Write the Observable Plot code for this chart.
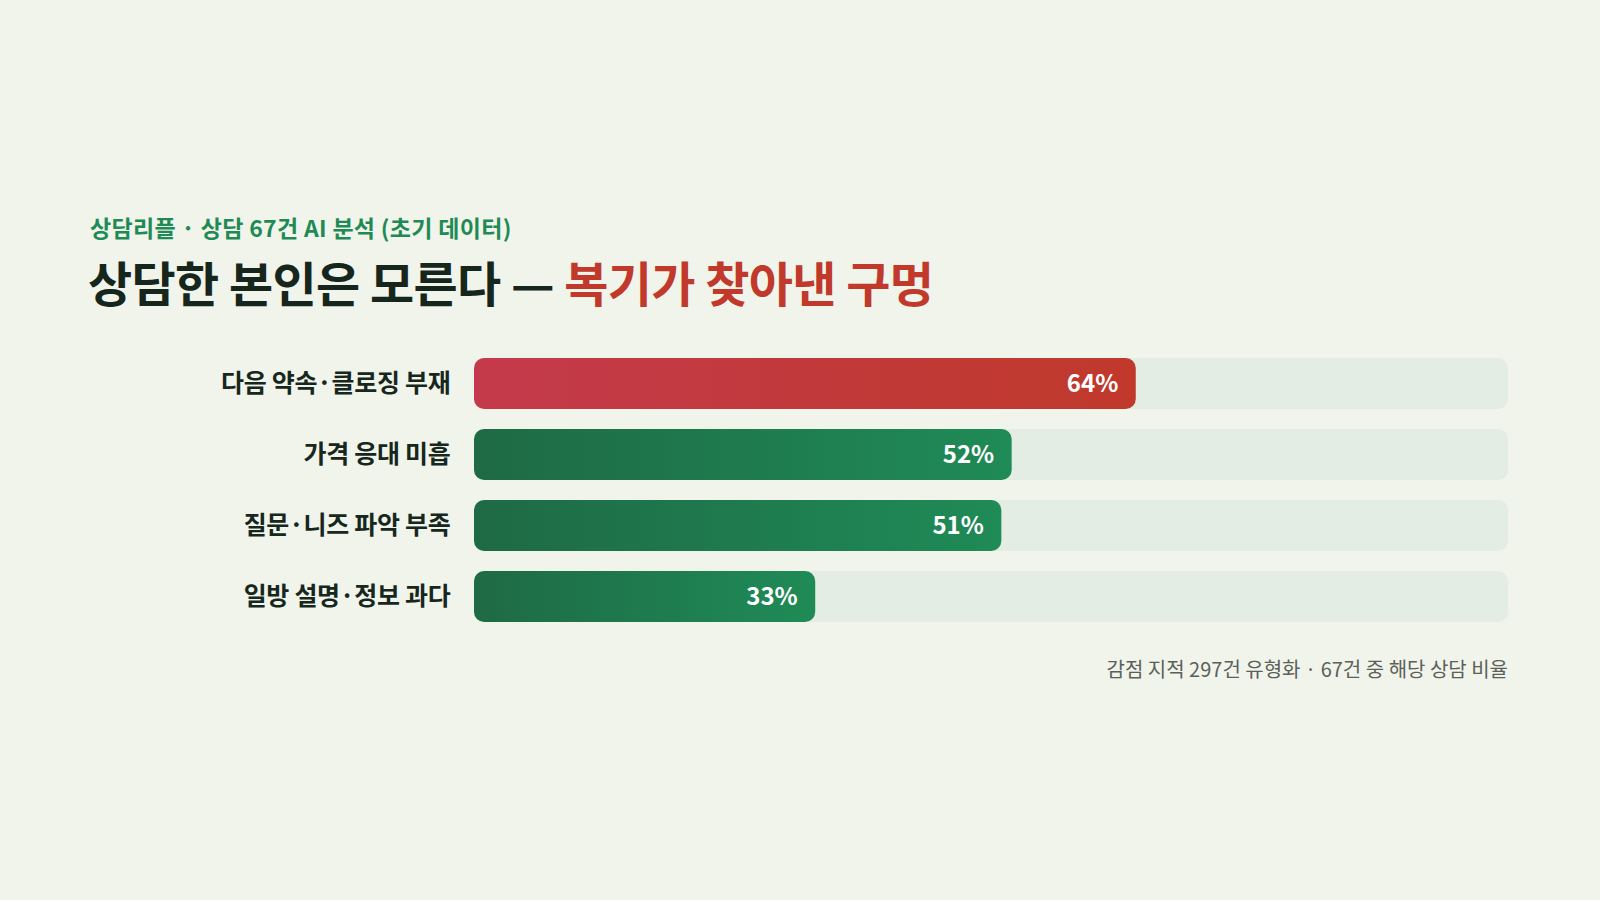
<!DOCTYPE html>
<html><head><meta charset="utf-8">
<script src="https://cdn.jsdelivr.net/npm/d3@7"></script>
<script src="https://cdn.jsdelivr.net/npm/@observablehq/plot@0.6"></script>
<style>
html,body{margin:0;padding:0;background:#f0f4ea;width:1600px;height:900px;overflow:hidden;font-family:"Noto Sans CJK KR","Noto Sans",sans-serif;}
#root{position:relative;width:1600px;height:900px;}
#kicker{position:absolute;left:90px;top:212px;font-size:23px;font-weight:700;color:#1f8a55;letter-spacing:0.3px;line-height:30px;white-space:nowrap;}
#title{position:absolute;left:88px;top:251px;font-size:48px;font-weight:700;color:#16261c;letter-spacing:-0.6px;line-height:60px;white-space:nowrap;}
#title .hl{color:#c0392b;}
#chart{position:absolute;left:0;top:320px;}
#note{position:absolute;right:92px;top:655px;font-size:20px;color:#5b605b;letter-spacing:0px;line-height:28px;white-space:nowrap;}
</style></head>
<body><div id="root">
<div id="kicker">상담리플 · 상담 67건 AI 분석 (초기 데이터)</div>
<div id="title">상담한 본인은 모른다 — <span class="hl">복기가 찾아낸 구멍</span></div>
<div id="chart"></div>
<div id="note">감점 지적 297건 유형화 · 67건 중 해당 상담 비율</div>
</div>
<script>
const categories = ["다음 약속·클로징 부재", "가격 응대 미흡", "질문·니즈 파악 부족", "일방 설명·정보 과다"];
const values = [64, 52, 51, 33];
const highlight = [true, false, false, false];

const data = categories.map((c, i) => ({category: c, value: values[i], hl: highlight[i]}));

const chart = Plot.plot({
  width: 1600,
  height: 330,
  marginLeft: 474,
  marginRight: 92,
  marginTop: 17,
  marginBottom: 6,
  style: {background: "transparent", fontFamily: "'Noto Sans CJK KR', sans-serif"},
  x: {domain: [0, 100], axis: null},
  y: {domain: categories, padding: 0.276, label: null},
  marks: [
    Plot.barX(data, {y: "category", x1: 0, x2: 100, fill: "#e3ede3", rx: 10}),
    Plot.barX(data, {y: "category", x1: 0, x2: "value", fill: d => d.hl ? "url(#gradRed)" : "url(#gradGreen)", rx: 10}),
    Plot.text(data, {y: "category", x: "value", text: d => d.value + "%", textAnchor: "end", dx: -18, fill: "white", fontSize: 24, fontWeight: 700}),
    Plot.axisY({tickSize: 0, tickPadding: 24, fontSize: 25, fontWeight: 700, fill: "#17271d", label: null})
  ]
});

const svg = d3.select(chart);
const defs = svg.insert("defs", ":first-child");
const gr = defs.append("linearGradient").attr("id", "gradRed").attr("x1", "0").attr("x2", "1").attr("y1", "0").attr("y2", "0");
gr.append("stop").attr("offset", "0%").attr("stop-color", "#c43a4c");
gr.append("stop").attr("offset", "100%").attr("stop-color", "#c0392b");
const gg = defs.append("linearGradient").attr("id", "gradGreen").attr("x1", "0").attr("x2", "1").attr("y1", "0").attr("y2", "0");
gg.append("stop").attr("offset", "0%").attr("stop-color", "#1e6a45");
gg.append("stop").attr("offset", "100%").attr("stop-color", "#1f8b57");
svg.selectAll("[aria-label='y-axis tick label'] text").style("letter-spacing", "-0.3px");

document.getElementById("chart").appendChild(chart);
</script>
</body></html>
